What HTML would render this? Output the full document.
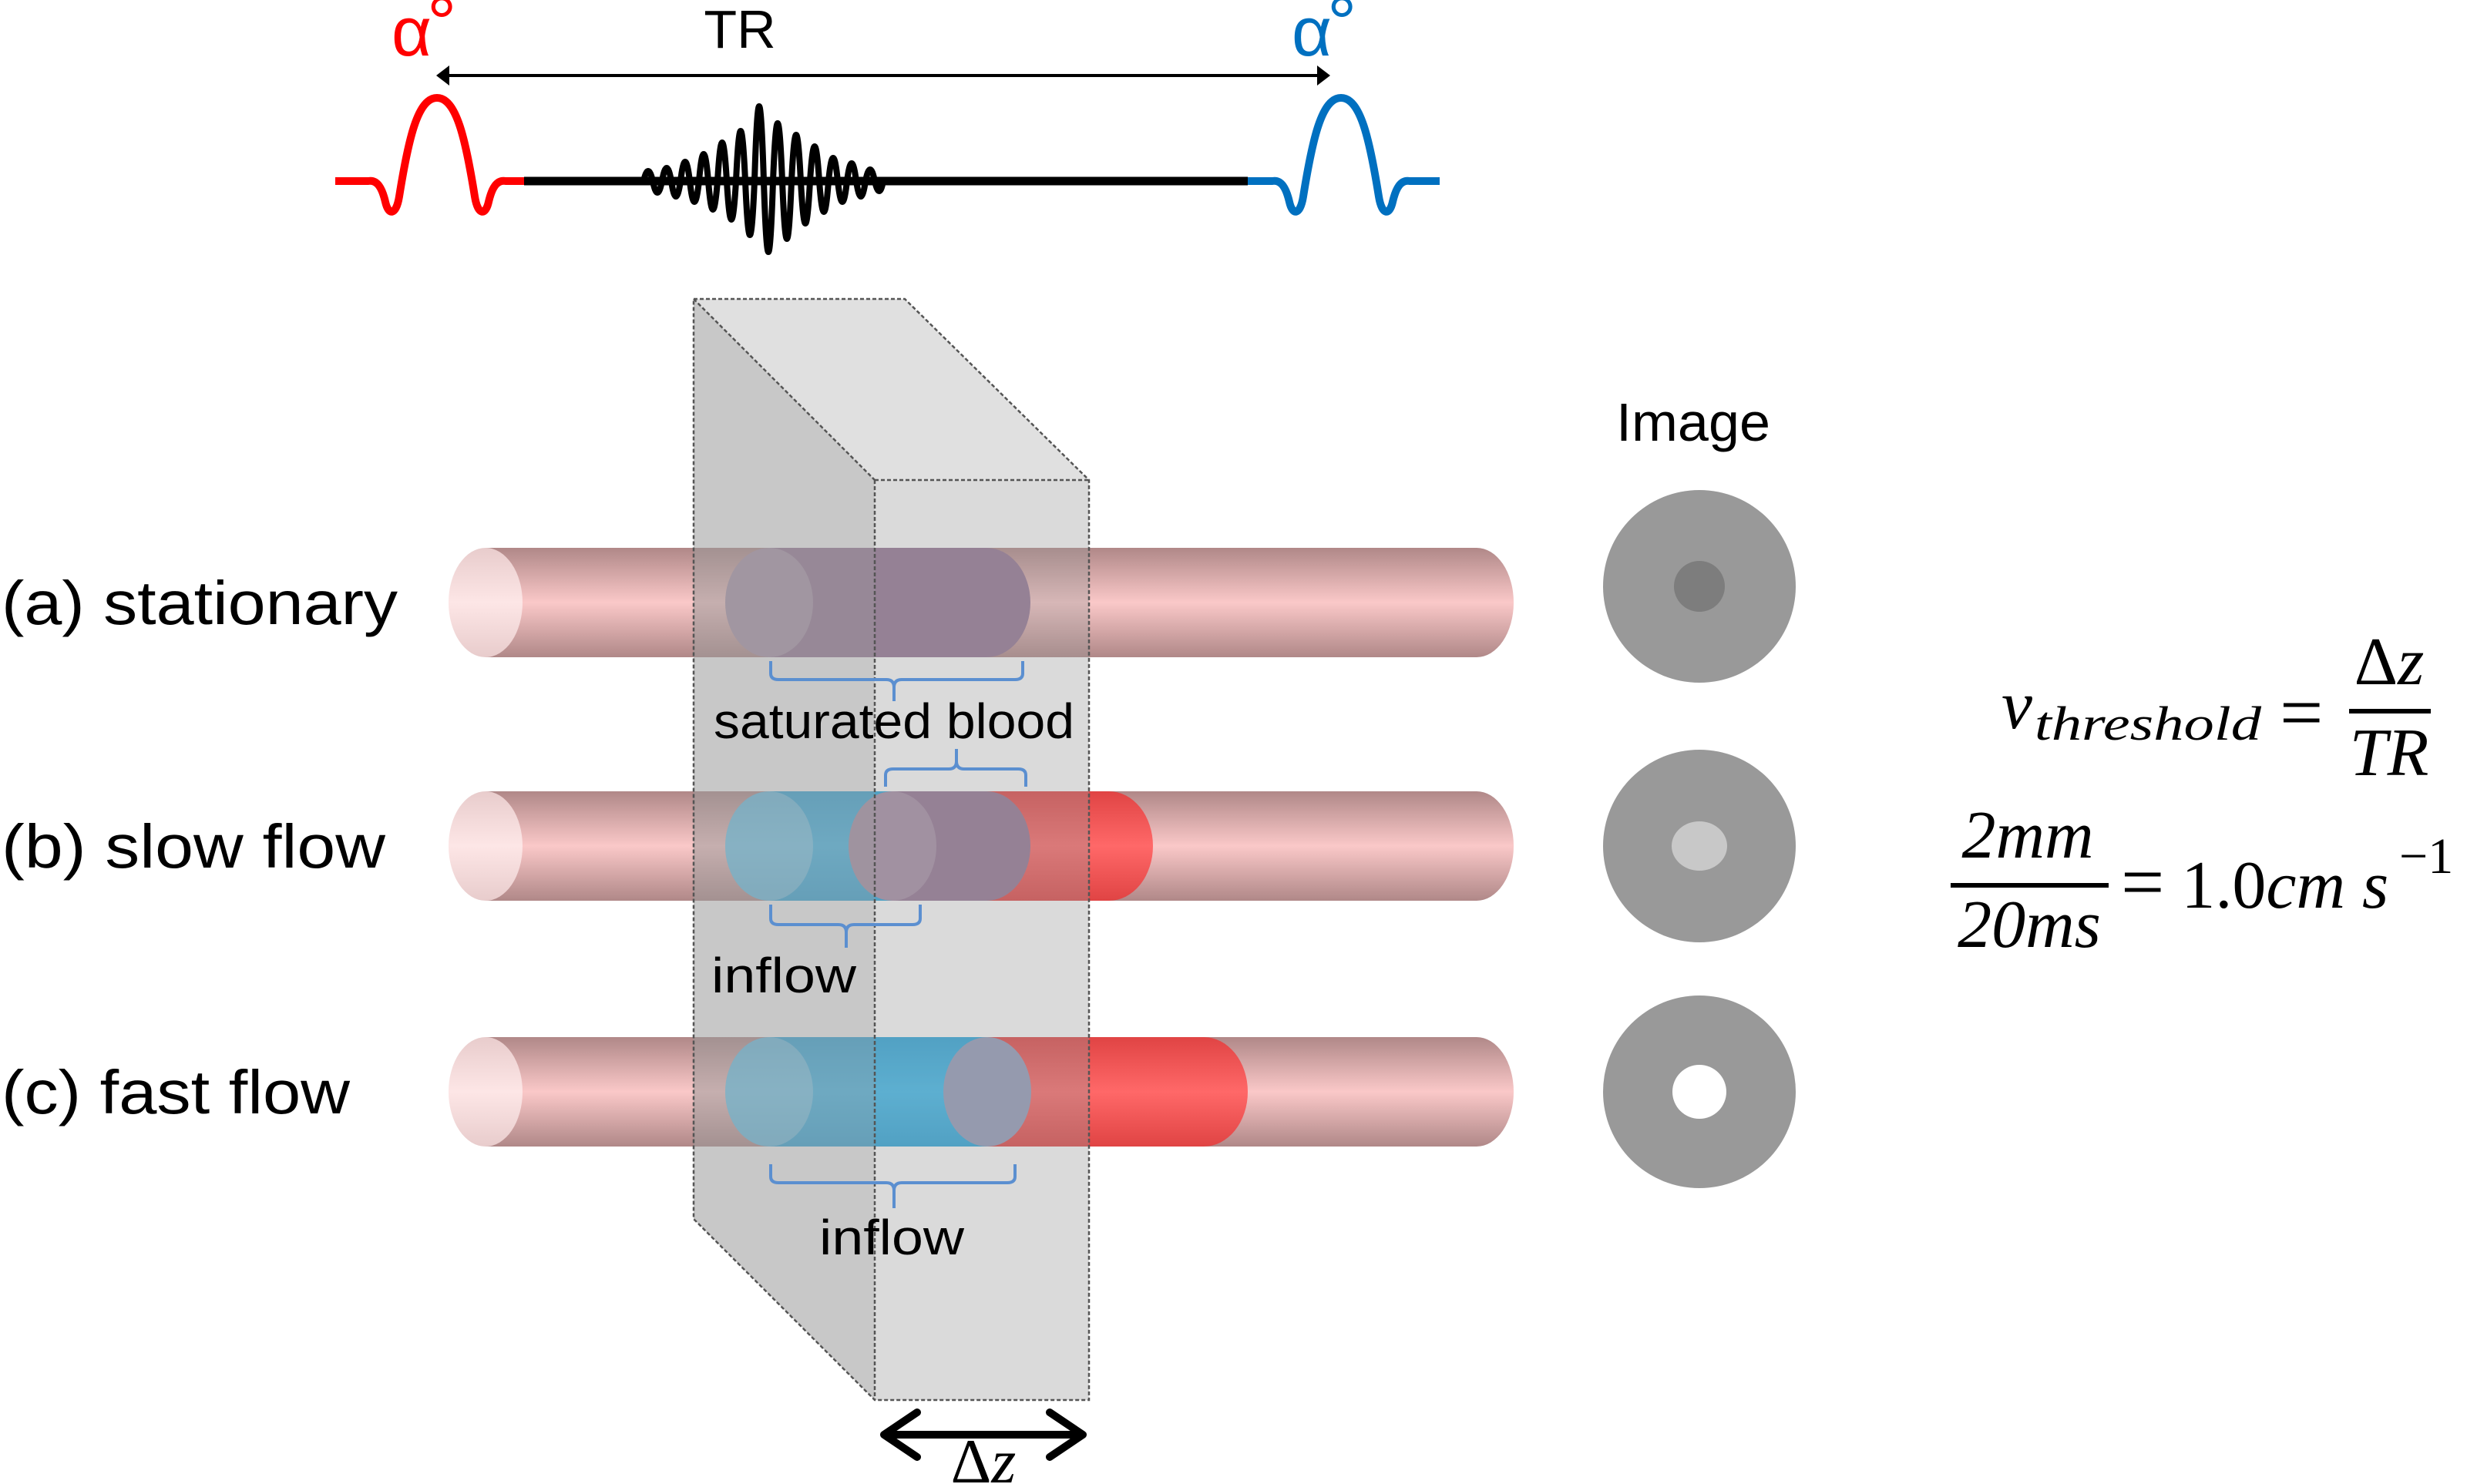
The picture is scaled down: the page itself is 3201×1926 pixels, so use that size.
<!DOCTYPE html>
<html><head><meta charset="utf-8"><style>
html,body{margin:0;padding:0;background:#fff;}
svg{display:block;}
</style></head><body>
<svg width="3201" height="1926" viewBox="0 0 3201 1926" xmlns="http://www.w3.org/2000/svg">
<defs>
<linearGradient id="tube" x1="0" y1="0" x2="0" y2="1">
<stop offset="0" stop-color="#b08888"/><stop offset="0.5" stop-color="#fac8c8"/><stop offset="1" stop-color="#b08888"/>
</linearGradient>
<linearGradient id="cap" x1="0" y1="0" x2="0" y2="1">
<stop offset="0" stop-color="#e8cccc"/><stop offset="0.5" stop-color="#fde6e6"/><stop offset="1" stop-color="#e8cccc"/>
</linearGradient>
<linearGradient id="red" x1="0" y1="0" x2="0" y2="1">
<stop offset="0" stop-color="#e04444"/><stop offset="0.5" stop-color="#ff6868"/><stop offset="1" stop-color="#e04444"/>
</linearGradient>
<linearGradient id="blue" x1="0" y1="0" x2="0" y2="1">
<stop offset="0" stop-color="#2aa6dc"/><stop offset="0.5" stop-color="#3cbcf0"/><stop offset="1" stop-color="#2aa6dc"/>
</linearGradient>
</defs>

<!-- top pulse sequence -->
<g fill="none" stroke-linejoin="round" stroke-linecap="butt">
<path d="M435,235 L478,235 C490,233 496,245 500,262 C504,280 514,280 518,255 C530,180 542,127 567,127 C592,127 604,180 616,255 C620,280 630,280 634,262 C638,245 644,233 656,235 L680,235" stroke="#ff0000" stroke-width="10"/>
<path d="M680,235 L1619,235" stroke="#000" stroke-width="11"/>
<path d="M1619,235 L1651,235 C1663,233 1669,245 1673,262 C1677,280 1687,280 1691,255 C1703,180 1715,127 1740,127 C1765,127 1777,180 1789,255 C1793,280 1803,280 1807,262 C1811,245 1817,233 1829,235 L1868,235" stroke="#0070c0" stroke-width="10"/>
<path d="M835,235 Q841,209 847,235 Q853,265 859,235 Q865,201 871,235 Q877,275 883,235 Q889,185 895,235 Q901,289 907,235 Q913,165 919,235 Q925,309 931,235 Q937,135 943,235 Q949,335 955,235 Q961,105 967,235 Q973,375 979,235 Q985,41 991,235 Q997,419 1003,235 Q1009,85 1015,235 Q1021,385 1027,235 Q1033,115 1039,235 Q1045,345 1051,235 Q1057,145 1063,235 Q1069,315 1075,235 Q1081,175 1087,235 Q1093,289 1099,235 Q1105,189 1111,235 Q1117,275 1123,235 Q1129,205 1135,235 Q1141,261 1146,235" stroke="#000" stroke-width="8"/>
</g>

<!-- TR arrow -->
<line x1="580" y1="98" x2="1712" y2="98" stroke="#000" stroke-width="4"/>
<polygon points="566,98 583,85 583,111" fill="#000"/>
<polygon points="1726,98 1709,85 1709,111" fill="#000"/>
<text x="508" y="72" font-family="Liberation Sans, sans-serif" font-size="90" fill="#ff0000">α</text>
<text x="554" y="62" font-family="Liberation Sans, sans-serif" font-size="96" fill="#ff0000">°</text>
<text x="1676" y="72" font-family="Liberation Sans, sans-serif" font-size="90" fill="#0070c0">α</text>
<text x="1722" y="62" font-family="Liberation Sans, sans-serif" font-size="96" fill="#0070c0">°</text>
<text x="960" y="62" text-anchor="middle" font-family="Liberation Sans, sans-serif" font-size="70" fill="#000">TR</text>

<!-- tubes -->
<g>
<rect x="630" y="711" width="1286" height="142" fill="url(#tube)"/>
<ellipse cx="1916" cy="782" rx="48" ry="71" fill="url(#tube)"/>
<ellipse cx="630" cy="782" rx="48" ry="71" fill="url(#cap)"/>
<rect x="630" y="1027" width="1286" height="142" fill="url(#tube)"/>
<ellipse cx="1916" cy="1098" rx="48" ry="71" fill="url(#tube)"/>
<ellipse cx="630" cy="1098" rx="48" ry="71" fill="url(#cap)"/>
<rect x="630" y="1346" width="1286" height="142" fill="url(#tube)"/>
<ellipse cx="1916" cy="1417" rx="48" ry="71" fill="url(#tube)"/>
<ellipse cx="630" cy="1417" rx="48" ry="71" fill="url(#cap)"/>
</g>

<!-- row a segment -->
<path d="M998,711 L1280,711 A57 71 0 0 1 1280,853 L998,853 A57 71 0 0 1 998,711 Z" fill="#947594"/>
<ellipse cx="998" cy="782" rx="57" ry="71" fill="#fff" opacity="0.22"/>

<!-- row b -->
<path d="M1200,1027 L1439,1027 A57 71 0 0 1 1439,1169 L1200,1169 Z" fill="url(#red)"/>
<path d="M998,1027 L1158,1027 L1158,1169 L998,1169 A57 71 0 0 1 998,1027 Z" fill="url(#blue)"/>
<path d="M1158,1027 L1280,1027 A57 71 0 0 1 1280,1169 L1158,1169 A57 71 0 0 1 1158,1027 Z" fill="#947594"/>
<ellipse cx="998" cy="1098" rx="57" ry="71" fill="#fff" opacity="0.28"/>
<ellipse cx="1158" cy="1098" rx="57" ry="71" fill="#fff" opacity="0.18"/>

<!-- row c -->
<path d="M1250,1346 L1562,1346 A57 71 0 0 1 1562,1488 L1250,1488 Z" fill="url(#red)"/>
<path d="M998,1346 L1281,1346 L1281,1488 L998,1488 A57 71 0 0 1 998,1346 Z" fill="url(#blue)"/>
<ellipse cx="1281" cy="1417" rx="57" ry="71" fill="#949cbb"/>
<ellipse cx="998" cy="1417" rx="57" ry="71" fill="#fff" opacity="0.28"/>

<!-- slab -->
<polygon points="900,388 1135,623 1135,1817 900,1582" fill="#999" opacity="0.54"/>
<polygon points="900,388 1174,388 1413,623 1135,623" fill="#999" opacity="0.3"/>
<rect x="1135" y="623" width="278" height="1194" fill="#999" opacity="0.36"/>
<g fill="none" stroke="#555" stroke-width="2.5" stroke-dasharray="5,3">
<polygon points="900,388 1174,388 1413,623 1413,1817 1135,1817 900,1582"/>
<line x1="900" y1="388" x2="1135" y2="623"/>
<line x1="1135" y1="623" x2="1413" y2="623"/>
<line x1="1135" y1="623" x2="1135" y2="1817"/>
</g>

<!-- brackets -->
<g fill="none" stroke="#5b8fd0" stroke-width="4" stroke-linejoin="round">
<path d="M1000,858 L1000,874 Q1000,882 1010,882 L1150,882 Q1160,882 1160,892 L1160,910 M1160,892 Q1160,882 1170,882 L1317,882 Q1327,882 1327,874 L1327,858"/>
<path d="M1149,1021 L1149,1006 Q1149,998 1159,998 L1231,998 Q1241,998 1241,988 L1241,972 M1241,988 Q1241,998 1251,998 L1321,998 Q1331,998 1331,1006 L1331,1021"/>
<path d="M1000,1174 L1000,1192 Q1000,1200 1010,1200 L1088,1200 Q1098,1200 1098,1210 L1098,1230 M1098,1210 Q1098,1200 1108,1200 L1184,1200 Q1194,1200 1194,1192 L1194,1174"/>
<path d="M1000,1511 L1000,1527 Q1000,1535 1010,1535 L1150,1535 Q1160,1535 1160,1545 L1160,1568 M1160,1545 Q1160,1535 1170,1535 L1307,1535 Q1317,1535 1317,1527 L1317,1511"/>
</g>
<g font-family="Liberation Sans, sans-serif" font-size="64" fill="#000" text-anchor="middle">
<text x="1160" y="958" textLength="468" lengthAdjust="spacingAndGlyphs">saturated blood</text>
<text x="1017" y="1288" textLength="188" lengthAdjust="spacingAndGlyphs">inflow</text>
<text x="1157" y="1628" textLength="188" lengthAdjust="spacingAndGlyphs">inflow</text>
</g>

<!-- row labels -->
<g font-family="Liberation Sans, sans-serif" font-size="80" fill="#000">
<text x="2" y="810" textLength="514" lengthAdjust="spacingAndGlyphs">(a) stationary</text>
<text x="2" y="1126" textLength="498" lengthAdjust="spacingAndGlyphs">(b) slow flow</text>
<text x="2" y="1445" textLength="452" lengthAdjust="spacingAndGlyphs">(c) fast flow</text>
<text x="2197" y="572" text-anchor="middle" font-size="70" textLength="200" lengthAdjust="spacingAndGlyphs">Image</text>
</g>

<!-- image circles -->
<circle cx="2205" cy="761" r="125" fill="#999"/>
<circle cx="2205" cy="761" r="33" fill="#7d7d7d"/>
<circle cx="2205" cy="1098" r="125" fill="#999"/>
<ellipse cx="2205" cy="1098" rx="36" ry="32" fill="#c8c8c8"/>
<circle cx="2205" cy="1417" r="125" fill="#999"/>
<circle cx="2205" cy="1417" r="35" fill="#fff"/>

<!-- Δz arrow -->
<g fill="none" stroke="#000" stroke-width="10" stroke-linecap="round" stroke-linejoin="round">
<line x1="1150" y1="1862" x2="1402" y2="1862"/>
<polyline points="1190,1833 1147,1862 1190,1891"/>
<polyline points="1362,1833 1405,1862 1362,1891"/>
</g>
<text x="1276" y="1924" text-anchor="middle" font-family="Liberation Serif, serif" font-size="82" fill="#000">Δ<tspan font-style="italic">z</tspan></text>

<!-- equations -->
<g font-family="Liberation Serif, serif" fill="#000" font-style="italic">
<text x="2597" y="945" font-size="90">v</text>
<text x="2640" y="960" font-size="62" textLength="294" lengthAdjust="spacingAndGlyphs">threshold</text>
<text x="2958" y="958" font-size="100" font-style="normal">=</text>
<text x="3100" y="888" font-size="88" text-anchor="middle"><tspan font-style="normal">Δ</tspan>z</text>
<text x="3100" y="1006" font-size="88" text-anchor="middle">TR</text>
<text x="2631" y="1113" font-size="88" text-anchor="middle">2mm</text>
<text x="2633" y="1229" font-size="88" text-anchor="middle">20ms</text>
<text x="2752" y="1178" font-size="88"><tspan font-style="normal" font-size="100">=</tspan><tspan font-style="normal"> 1.0</tspan>cm s</text>
<text x="3113" y="1133" font-size="66" font-style="normal">−1</text>
</g>
<rect x="3048" y="920" width="106" height="6" fill="#000"/>
<rect x="2531" y="1146" width="205" height="6" fill="#000"/>
</svg>
</body></html>
